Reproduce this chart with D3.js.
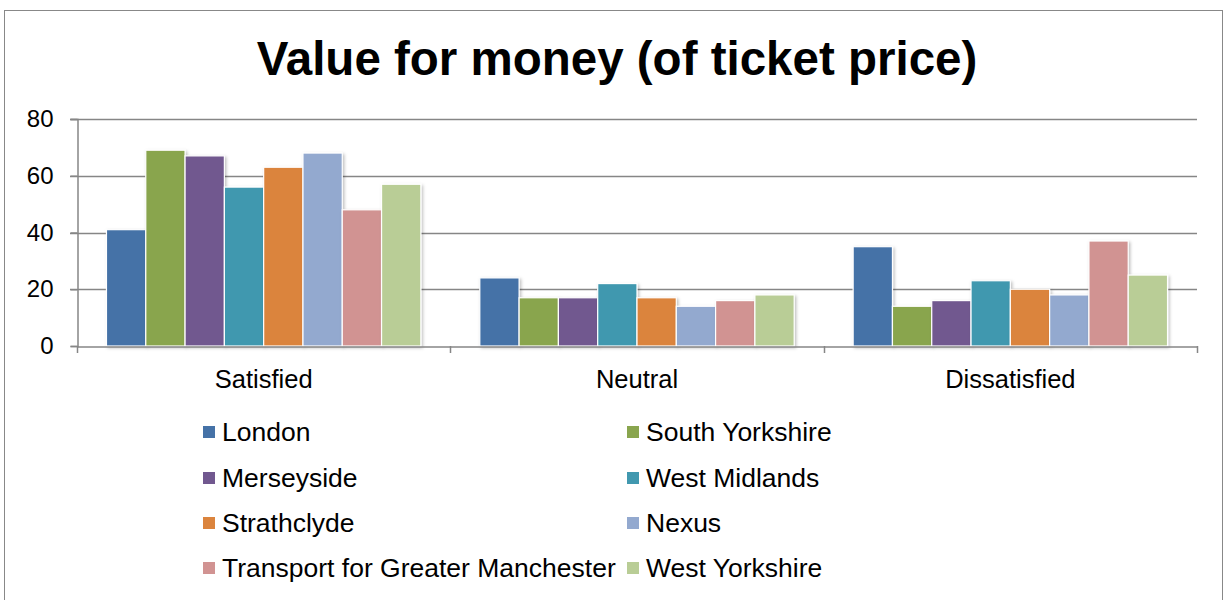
<!DOCTYPE html>
<html><head><meta charset="utf-8">
<script src="https://cdnjs.cloudflare.com/ajax/libs/d3/7.8.5/d3.min.js"></script>
<style>body{margin:0;background:#fff}svg{display:block}text{font-family:"Liberation Sans",Arial,sans-serif}</style>
</head><body><svg id="c" width="1228" height="600"></svg>
<script>
const categories = ["Satisfied", "Neutral", "Dissatisfied"];
const seriesNames = ["London", "South Yorkshire", "Merseyside", "West Midlands", "Strathclyde", "Nexus", "Transport for Greater Manchester", "West Yorkshire"];
const London = [41, 24, 35];
const SouthYorkshire = [69, 17, 14];
const Merseyside = [67, 17, 16];
const WestMidlands = [56, 22, 23];
const Strathclyde = [63, 17, 20];
const Nexus = [68, 14, 18];
const TfGM = [48, 16, 37];
const WestYorkshire = [57, 18, 25];
const seriesValues = [London, SouthYorkshire, Merseyside, WestMidlands, Strathclyde, Nexus, TfGM, WestYorkshire];
const colors = ["#4572A7", "#89A54E", "#71588F", "#4198AF", "#DB843D", "#93A9CF", "#D19392", "#B9CD96"];
const yTicks = [0, 20, 40, 60, 80];
const title = "Value for money (of ticket price)";

const svg = d3.select("#c");
const defs = svg.append("defs");
const f = defs.append("filter").attr("id","sh").attr("x","-20%").attr("y","-20%").attr("width","150%").attr("height","150%");
f.append("feDropShadow").attr("dx",1.5).attr("dy",1.5).attr("stdDeviation",1.5).attr("flood-color","#000").attr("flood-opacity",0.25);

// chart border
svg.append("rect").attr("x",4.5).attr("y",10.5).attr("width",1218).attr("height",600).attr("fill","none").attr("stroke","#888").attr("stroke-width",1);

svg.append("text").attr("x",617).attr("y",75).attr("text-anchor","middle")
  .attr("font-size",47.5).attr("font-weight","bold").attr("fill","#000").text(title);

const pL = 77, pR = 1197, pT = 119, pB = 346;
const x0 = d3.scaleBand().domain(categories).range([pL, pR]).paddingInner(0).paddingOuter(0);
const bw = x0.bandwidth();
const x1 = d3.scaleBand().domain(seriesNames).range([0, bw]).paddingInner(0).paddingOuter(0.75);
const y = d3.scaleLinear().domain([0, 80]).range([pB, pT]);

// gridlines
svg.append("g").selectAll("line").data(yTicks.filter(d=>d>0)).join("line")
  .attr("x1",pL-7).attr("x2",pR).attr("y1",d=>Math.round(y(d))+0.5).attr("y2",d=>Math.round(y(d))+0.5)
  .attr("stroke","#868686").attr("stroke-width",1.5);

// y axis
const ya = svg.append("g").attr("transform",`translate(${pL+0.5},0)`)
  .call(d3.axisLeft(y).tickValues(yTicks).tickSize(7).tickPadding(17));
ya.select(".domain").attr("stroke","#868686").attr("stroke-width",1.5);
ya.selectAll(".tick line").attr("stroke","#868686").attr("stroke-width",1.5);
ya.selectAll(".tick text").attr("font-size",24).attr("fill","#000").attr("font-family","Liberation Sans, Arial, sans-serif");

// bars
const g = svg.append("g");
categories.forEach((c, ci) => {
  g.append("g").selectAll("rect").data(seriesNames).join("rect")
    .attr("x", s => x0(c) + x1(s))
    .attr("y", (s, si) => y(seriesValues[si][ci]))
    .attr("width", x1.bandwidth())
    .attr("height", (s, si) => pB - y(seriesValues[si][ci]))
    .attr("fill", (s, si) => colors[si])
    .attr("stroke", "#fff").attr("stroke-width", 1.2)
    .attr("filter", "url(#sh)");
});

// x axis
const xa = svg.append("g").attr("transform",`translate(0,${pB+0.5})`)
  .call(d3.axisBottom(x0).tickSize(0).tickPadding(23));
xa.select(".domain").attr("stroke","#868686").attr("stroke-width",1.5);
xa.selectAll(".tick text").attr("font-size",25.5).attr("fill","#000").attr("font-family","Liberation Sans, Arial, sans-serif");
// category boundary ticks
const bounds = categories.map(c => x0(c)).concat([pR]);
svg.append("g").selectAll("line").data(bounds).join("line")
  .attr("x1",d=>Math.round(d)+0.5).attr("x2",d=>Math.round(d)+0.5).attr("y1",pB).attr("y2",pB+7)
  .attr("stroke","#868686").attr("stroke-width",1.5);

// legend
const legX = [203, 627], legY = [432, 478, 523, 568];
const lg = svg.append("g");
seriesNames.forEach((s, i) => {
  const lx = legX[i % 2], ly = legY[Math.floor(i / 2)];
  lg.append("rect").attr("x", lx).attr("y", ly - 6).attr("width", 12).attr("height", 12).attr("fill", colors[i]);
  lg.append("text").attr("x", lx + 19).attr("y", ly).attr("dy","0.35em").attr("font-size", 26.5).attr("fill","#000").text(s);
});
</script></body></html>
